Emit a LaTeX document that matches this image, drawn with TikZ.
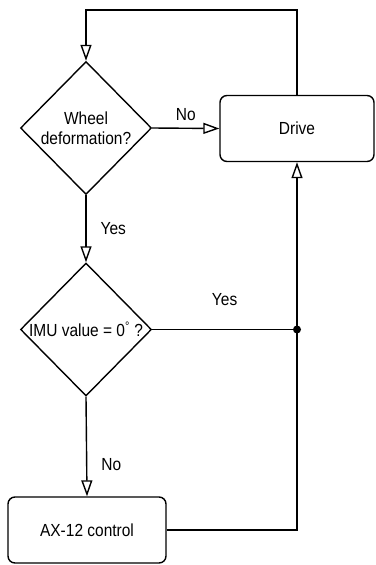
\documentclass[tikz,border=0pt]{standalone}
\usepackage{fontspec}
\setmainfont{Liberation Sans}[FakeStretch=0.885]
\usetikzlibrary{shapes.geometric,arrows.meta}
\begin{document}
\begin{tikzpicture}[x=1pt,y=-1pt,
  font=\fontsize{17.5}{20}\selectfont,
  every node/.style={line width=1.4pt},
  dec/.style={draw,diamond,inner sep=0pt,minimum width=131pt,minimum height=133pt,align=center},
  proc/.style={draw,rectangle,rounded corners=7pt,minimum height=66pt,align=center},
  arr/.style={line width=1.4pt,-{Triangle[open,fill=white,length=16pt,width=11pt]}},
  ln/.style={line width=1.4pt},
  lbl/.style={inner sep=2pt}]
\useasboundingbox (0,0) rectangle (375,565);
\node[dec] (d1) at (86,128) {Wheel\\deformation?};
\node[dec] (d2) at (86,329.5) {IMU value = 0\textsuperscript{°} ?};
\node[proc,minimum width=154pt] (drive) at (297,128.5) {Drive};
\node[proc,minimum width=158pt] (ax) at (87,530) {AX-12 control};
\coordinate (dot) at (297,329.5);
\coordinate (tr) at (297,10);
\coordinate (tl) at (86,10);
\draw[arr] (drive.north) -- (tr) -- (tl) -- (d1.north);
\draw[arr] (d1.east) -- node[lbl,above=5pt] {No} (drive.west);
\draw[arr] (d1.south) -- node[lbl,right=12pt] {Yes} (d2.north);
\draw[ln] (d2.east) -- node[lbl,above=21pt] {Yes} (dot);
\draw[arr] (d2.south) -- node[lbl,pos=0.68,right=12pt] {No} (ax.north);
\draw[arr] (ax.east) -| (drive.south);
\fill (dot) circle (4pt);
\end{tikzpicture}
\end{document}
